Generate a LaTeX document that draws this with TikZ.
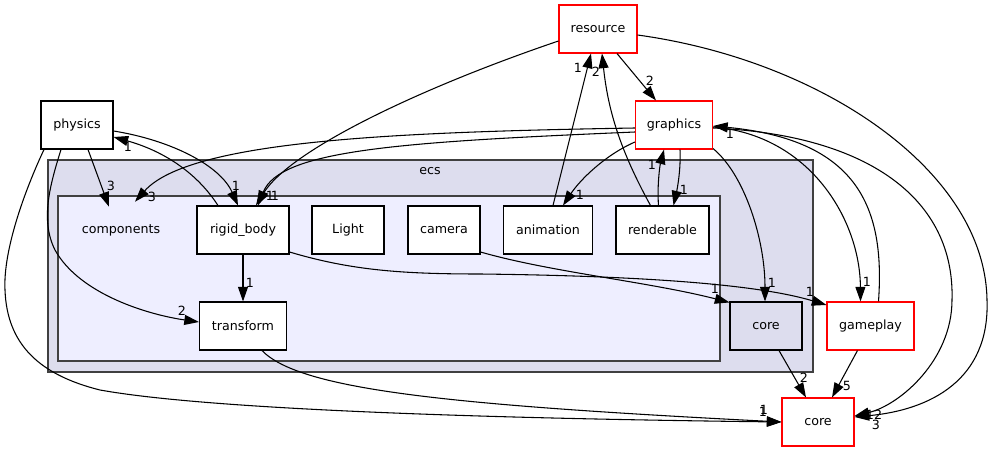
\documentclass[tikz,border=0pt]{standalone}
\usepackage{fontspec}
\setmainfont{DejaVu Sans}
\usepackage{tikz}
\usetikzlibrary{arrows.meta}
\usetikzlibrary{calc}
\definecolor{clusterouter}{HTML}{DDDDEE}
\definecolor{clusterinner}{HTML}{EEEEFF}
\definecolor{clusterline}{HTML}{404040}
\tikzstyle{dir}=[draw, fill=white, line width=0.8pt, inner sep=0pt, minimum height=36pt, font=\fontsize{9.5}{11}\selectfont]
\tikzstyle{extdir}=[dir, draw=red]
\tikzstyle{dep}=[line width=0.8pt, -{Triangle[length=11pt, width=7.5pt]}]
\tikzstyle{num}=[inner sep=0pt, font=\fontsize{9.5}{11}\selectfont]

\begin{document}
\begin{tikzpicture}[x=0.75pt, y=-0.75pt]
        \useasboundingbox (0,0) rectangle (993,452);
        % ecs and components clusters
        \filldraw[fill=clusterouter, draw=clusterline, line width=1.2pt] (48,160) rectangle (813,372);
        \node[num] (Ecs) at (430,171) {ecs};
        \filldraw[fill=clusterinner, draw=clusterline, line width=1.2pt] (58,196) rectangle (720,361);
        \node[num, minimum width=60pt, minimum height=36pt] (Comp) at (121,230) {components};
        % directories
        \node[extdir, minimum width=58.5pt] (Res) at (598,29) {resource};
        \node[extdir, minimum width=57.75pt] (Gfx) at (674,125) {graphics};
        \node[dir, minimum width=54pt] (Phy) at (77,125) {physics};
        \node[dir, minimum width=69pt] (Rig) at (243,230) {rigid\_body};
        \node[dir, minimum width=54pt] (Lgt) at (348,230) {Light};
        \node[dir, minimum width=54pt] (Cam) at (444,230) {camera};
        \node[dir, minimum width=66.75pt] (Ani) at (548,230) {animation};
        \node[dir, minimum width=69.75pt] (Ren) at (662.5,230) {renderable};
        \node[dir, minimum width=65.25pt] (Trf) at (243,326) {transform};
        \node[dir, fill=clusterouter, minimum width=54pt] (ECore) at (766,326) {core};
        \node[extdir, minimum width=65.25pt] (Gam) at (870.5,326) {gameplay};
        \node[extdir, minimum width=54pt] (Core) at (818,422) {core};
        % dependencies
        \draw[dep] ($(Res.west)+(0,12)$) .. controls (420,88) and (290,150) .. ($(Rig.north)+(13,0)$);
        \draw[dep] ($(Gfx.west)+(0,3)$) .. controls (400,132) and (190,140) .. ($(Comp.north)+(14,-4)$);
        \draw[dep] ($(Gfx.west)+(0,7)$) .. controls (400,142) and (280,150) .. ($(Rig.north)+(15,0)$);
        \draw[dep] ($(Phy.south)+(11,0)$) -- ($(Comp.north)+(-12,1)$);
        \draw[dep] ($(Phy.east)+(0,6)$) .. controls (170,140) and (220,165) .. ($(Rig.north)+(-5,0)$);
        \draw[dep] ($(Rig.north)+(-25,0)$) .. controls (195,170) and (160,150) .. ($(Phy.east)+(0,12)$);
        \draw[dep] ($(Phy.south)+(-16,0)$) .. controls (50,185) and (40,220) .. (55,250)
            .. controls (80,295) and (150,315) .. ($(Trf.west)+(0,-4)$);
        \draw[dep] ($(Phy.south)+(-33,0)$) .. controls (25,190) and (3,250) .. (5,290)
            .. controls (7,345) and (40,375) .. (100,390)
            .. controls (200,408) and (450,418) .. (Core.west);
        \draw[dep] ($(Trf.south)+(19,0)$) .. controls (300,390) and (450,405) .. (Core.west);
        \draw[dep] (Rig.south) -- (Trf.north);
        \draw[dep] ($(Rig.east)+(0,22)$) .. controls (350,270) and (400,274) .. (480,274)
            .. controls (650,276) and (760,285) .. ($(Gam.west)+(0,-21)$);
        \draw[dep] ($(Cam.east)+(0,22)$) .. controls (550,272) and (650,282) .. ($(ECore.north west)+(0,1)$);
        \draw[dep] ($(Ani.north)+(5,0)$) -- ($(Res.south)+(-7,0)$);
        \draw[dep] ($(Ren.north)+(-12,0)$) .. controls (620,150) and (608,110) .. ($(Res.south)+(4,0)$);
        \draw[dep] ($(Res.south)+(19,0)$) -- ($(Gfx.north)+(-18,0)$);
        \draw[dep] ($(Gfx.west)+(0,17)$) .. controls (605,155) and (580,180) .. ($(Ani.north)+(15,0)$);
        \draw[dep] ($(Gfx.south)+(6,0)$) .. controls (681,170) and (677,190) .. ($(Ren.north)+(11,0)$);
        \draw[dep] ($(Ren.north)+(-4,0)$) .. controls (657,185) and (660,165) .. ($(Gfx.south)+(-10,0)$);
        \draw[dep] ($(Gfx.south east)+(0,-1)$) .. controls (745,175) and (765,240) .. ($(ECore.north)+(-1,0)$);
        \draw[dep] ($(Gfx.east)+(0,2)$) .. controls (810,135) and (860,220) .. ($(Gam.north)+(-10,0)$);
        \draw[dep] ($(Gam.north)+(8,0)$) .. controls (885,210) and (860,140) .. ($(Gfx.east)+(0,1)$);
        \draw[dep] ($(Gfx.east)+(0,3)$) .. controls (870,135) and (955,200) .. (952,300)
            .. controls (952,360) and (900,405) .. ($(Core.east)+(0,-6)$);
        \draw[dep] ($(Res.east)+(0,6)$) .. controls (820,60) and (985,170) .. (987,300)
            .. controls (990,380) and (930,410) .. ($(Core.east)+(0,-5)$);
        \draw[dep] ($(ECore.south)+(13,0)$) -- ($(Core.north)+(-12,0)$);
        \draw[dep] ($(Gam.south)+(-13,0)$) -- ($(Core.north)+(14,0)$);
        % edge counts
        \node[num] (L1) at (270,196) {1};
        \node[num] (L2) at (152,197) {3};
        \node[num] (L3) at (275,196) {1};
        \node[num] (L4) at (111,186) {3};
        \node[num] (L5) at (236,186) {1};
        \node[num] (L6) at (128,147) {1};
        \node[num] (L7) at (182,311) {2};
        \node[num] (L8) at (763,412) {1};
        \node[num] (L9) at (764,410) {1};
        \node[num] (L10) at (250,283) {1};
        \node[num] (L11) at (810,292) {1};
        \node[num] (L12) at (715,289) {1};
        \node[num] (L13) at (578,68) {1};
        \node[num] (L14) at (596,72) {2};
        \node[num] (L15) at (650,81) {2};
        \node[num] (L16) at (580,195) {1};
        \node[num] (L17) at (684,190) {1};
        \node[num] (L18) at (652,165) {1};
        \node[num] (L19) at (772,283) {1};
        \node[num] (L20) at (867,282) {1};
        \node[num] (L21) at (730,134) {1};
        \node[num] (L22) at (874,415) {12};
        \node[num] (L23) at (876,425) {3};
        \node[num] (L24) at (804,378) {2};
        \node[num] (L25) at (847,386) {5};
    \end{tikzpicture}
\end{document}
